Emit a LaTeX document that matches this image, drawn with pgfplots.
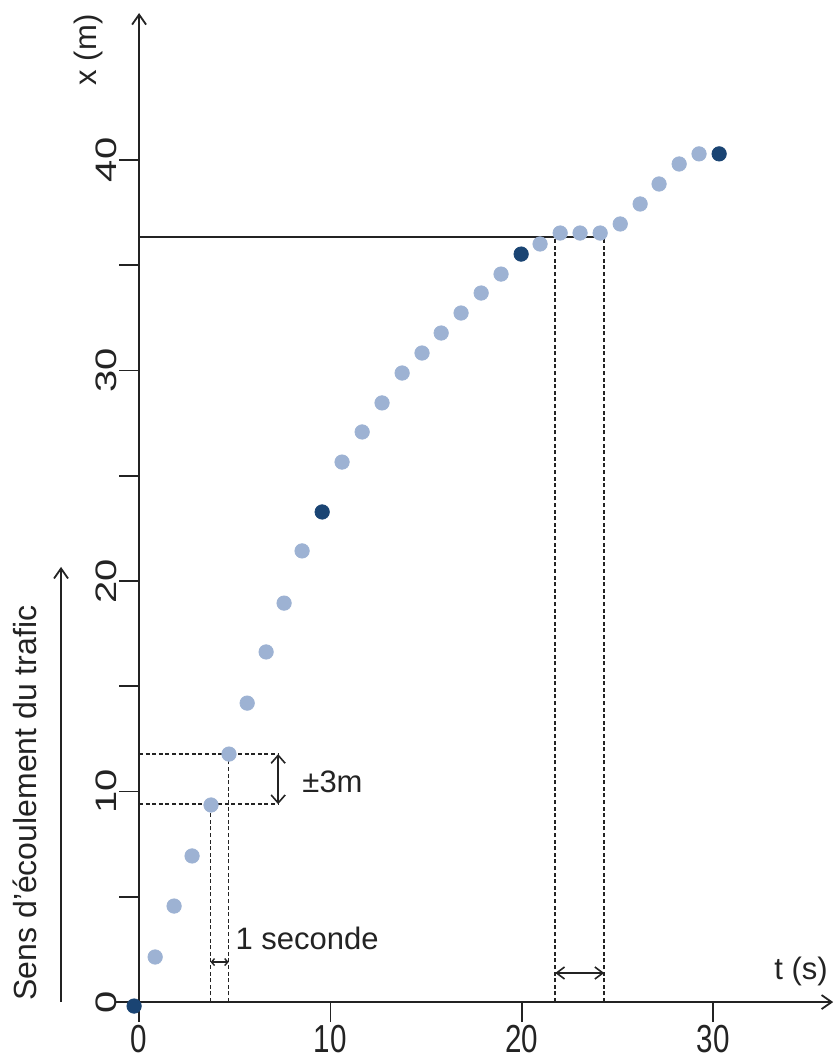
\documentclass[border=0pt]{standalone}
\usepackage{pgfplots}
\pgfplotsset{compat=1.18}
\usepackage{pgfplotstable}
\usepackage{fontspec}
\setmainfont{Liberation Sans}
\usetikzlibrary{arrows.meta}
\definecolor{ptlight}{RGB}{157,178,211}
\definecolor{ptdark}{RGB}{26,68,115}
\definecolor{ink}{RGB}{35,35,35}

% positions (t in s, x in m)
\pgfplotstableread{
t x
0.84 2.14
1.83 4.56
2.77 6.94
3.76 9.36
4.70 11.78
5.65 14.20
6.64 16.63
7.58 18.95
8.52 21.43
10.61 25.65
11.66 27.08
12.70 28.46
13.75 29.88
14.79 30.83
15.79 31.78
16.83 32.73
17.88 33.68
18.92 34.58
20.96 36.01
22.01 36.53
23.05 36.53
24.10 36.53
25.15 36.96
26.19 37.91
27.18 38.86
28.23 39.81
29.27 40.29
}\lightpts
\pgfplotstableread{
t x
-0.26 -0.19
9.57 23.28
19.97 35.53
30.32 40.29
}\darkpts

\newcommand\annfont{\fontsize{15.5}{15.5}\selectfont}
\newcommand\tickfont{\fontsize{14.8}{14.8}\selectfont}

\begin{document}
\begin{tikzpicture}
\begin{axis}[
  x=9.565pt, y=10.525pt,
  xmin=-1.25, xmax=36.28, ymin=-0.48, ymax=46.98,
  axis lines=middle,
  axis line style={ink, line width=0.9pt, -{Straight Barb[length=5pt,width=7pt]}},
  hide obscured x ticks=false, hide obscured y ticks=false,
  xtick={0,10,20,30}, ytick={0,10,20,30,40}, minor ytick={5,15,25,35},
  tick align=outside, major tick length=10pt, minor tick length=10pt,
  tick style={ink, line width=0.9pt},
  /pgf/number format/assume math mode=true,
  xticklabel style={font=\tickfont, text=ink, yshift=-1.5pt, yscale=1.32, inner sep=0pt},
  yticklabel style={font=\tickfont, text=ink, yscale=1.35, rotate=90, anchor=south, inner sep=1pt},
  clip=false,
]
\addplot[only marks, color=ptlight, mark=*, mark size=3.6pt, mark options={draw=ptlight, fill=ptlight}] table[x=t, y=x] {\lightpts};
\addplot[only marks, color=ptdark, mark=*, mark size=3.6pt, mark options={draw=ptdark, fill=ptdark}] table[x=t, y=x] {\darkpts};

% +-3m / 1 seconde box
\draw[ink, line width=0.85pt, dash pattern=on 2pt off 1.3pt] (0,11.78) -- (7.27,11.78);
\draw[ink, line width=0.85pt, dash pattern=on 2pt off 1.3pt] (0,9.40) -- (7.27,9.40);
\draw[ink, line width=0.85pt, dash pattern=on 2pt off 1.3pt] (3.74,0) -- (3.74,9.40);
\draw[ink, line width=0.85pt, dash pattern=on 2pt off 1.3pt] (4.68,0) -- (4.68,11.78);
\draw[ink, line width=0.8pt, {Straight Barb[length=4pt,width=7pt]}-{Straight Barb[length=4pt,width=7pt]}] (7.27,9.40) -- (7.27,11.78);
\draw[ink, line width=0.7pt, {Straight Barb[length=1.5pt,width=3.5pt]}-{Straight Barb[length=1.5pt,width=3.5pt]}] (3.74,1.90) -- (4.68,1.90);
\node[font=\annfont, text=ink, anchor=west, inner sep=0pt] at (8.52,10.45) {±3m};
\node[font=\annfont, text=ink, anchor=west, inner sep=0pt] at (5.02,3.04) {1 seconde};

% plateau box
\draw[ink, line width=0.85pt] (0,36.34) -- (24.31,36.34);
\draw[ink, line width=0.85pt, dash pattern=on 2pt off 1.3pt] (21.75,0) -- (21.75,36.34);
\draw[ink, line width=0.85pt, dash pattern=on 2pt off 1.3pt] (24.31,0) -- (24.31,36.34);
\draw[ink, line width=0.8pt, {Straight Barb[length=4pt,width=6pt]}-{Straight Barb[length=4pt,width=6pt]}] (21.75,1.38) -- (24.31,1.38);

% axis names and traffic direction
\node[font=\annfont, text=ink, rotate=90] at (-2.67,45.23) {x (m)};
\node[font=\annfont, text=ink] at (34.6,1.43) {t (s)};
\node[font=\fontsize{16}{16}\selectfont, text=ink, rotate=90] at (-5.96,9.45) {Sens d'écoulement du trafic};
\draw[ink, line width=0.9pt, -{Straight Barb[length=5pt,width=7pt]}] (-4.08,0) -- (-4.08,20.67);

\coordinate (bl) at (-7.27,-2.80);
\coordinate (tr) at (36.33,47.60);
\end{axis}
\pgfresetboundingbox
\path[use as bounding box] (bl) rectangle (tr);
\end{tikzpicture}
\end{document}
